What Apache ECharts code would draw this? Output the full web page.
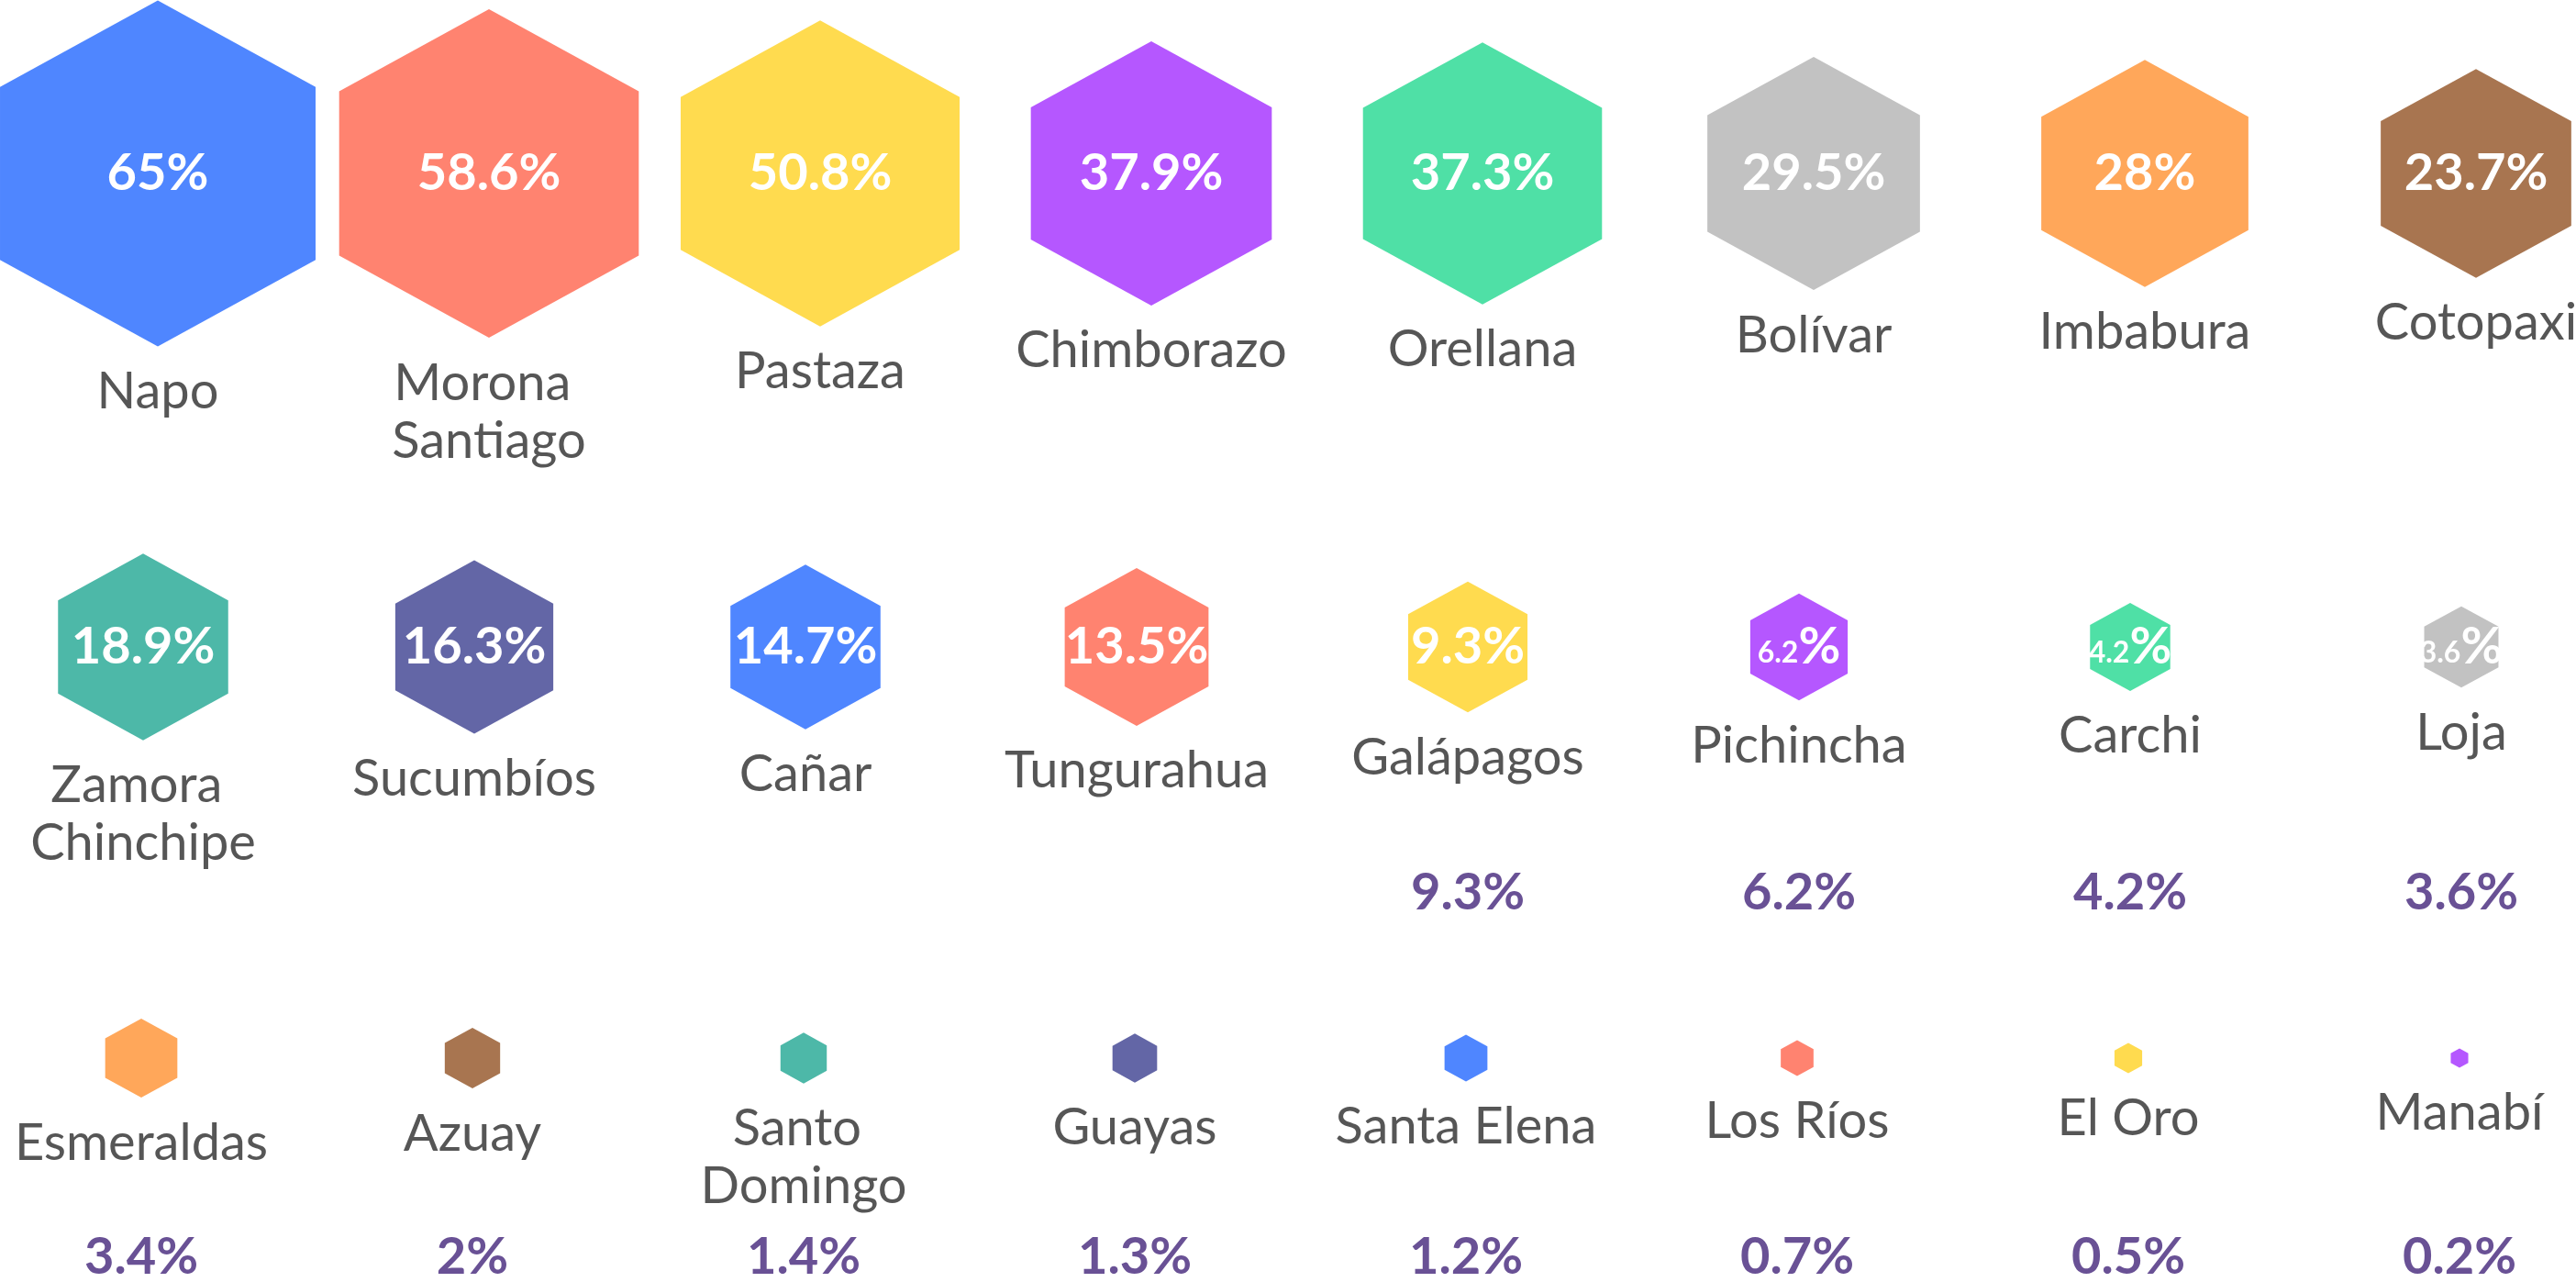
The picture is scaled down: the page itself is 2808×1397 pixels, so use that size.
<!DOCTYPE html>
<html>
<head>
<meta charset="utf-8">
<title>Provincias</title>
<script src="https://cdn.jsdelivr.net/npm/echarts@6.0.0/dist/echarts.min.js"></script>
<style>
  html, body { margin: 0; padding: 0; background: #fff; }
  #chart { width: 2808px; height: 1397px; }
</style>
</head>
<body>
<div id="chart"></div>
<script>
const provinces = [
  'Napo', 'Morona Santiago', 'Pastaza', 'Chimborazo', 'Orellana', 'Bolívar', 'Imbabura', 'Cotopaxi',
  'Zamora Chinchipe', 'Sucumbíos', 'Cañar', 'Tungurahua', 'Galápagos', 'Pichincha', 'Carchi', 'Loja',
  'Esmeraldas', 'Azuay', 'Santo Domingo', 'Guayas', 'Santa Elena', 'Los Ríos', 'El Oro', 'Manabí',
];
const shares = [
  65, 58.6, 50.8, 37.9, 37.3, 29.5, 28, 23.7,
  18.9, 16.3, 14.7, 13.5, 9.3, 6.2, 4.2, 3.6,
  3.4, 2, 1.4, 1.3, 1.2, 0.7, 0.5, 0.2,
];
const palette = ['#4f86ff', '#ff8370', '#ffdb4f', '#b557ff', '#4fe0a6', '#c2c2c2', '#ffa75a', '#a87550', '#4db8a8', '#6366a6'];

const perRow = 8;
const rows = [
  { top: 189, height: 100, firstX: 172 },
  { top: 705, height: 268, firstX: 156 },
  { top: 1153, height: 217, firstX: 154 },
];
const columnStep = 361;
const chartWidth = 2808;
const font = 'Lato';
const hexPath = 'path://M50 0L100 25L100 75L50 100L0 75L0 25Z';

function hexSize(value) {
  const h = 46.76 * Math.sqrt(value[2]);
  return [h / 1.096, h];
}

function innerLabel(params) {
  const v = params.value[2];
  if (v < 3.5) {
    return '';
  }
  if (v < 9) {
    return `{small|${v}}{big|%}`;
  }
  return `{big|${v}%}`;
}

const grid = [];
const xAxis = [];
const yAxis = [];
const series = [];

rows.forEach((row, r) => {
  const start = r * perRow;
  const values = shares.slice(start, start + perRow);
  const points = values.map((v, i) => [i, 0, v]);
  const smallPoints = values
    .map((v, i) => [i, 1, v])
    .filter((p) => p[2] < 10);

  grid.push({ left: 0, right: 0, top: row.top, height: row.height });
  xAxis.push({
    gridIndex: r,
    type: 'value',
    show: false,
    min: -row.firstX / columnStep,
    max: (chartWidth - row.firstX) / columnStep,
  });
  yAxis.push({ gridIndex: r, type: 'value', show: false, min: 0, max: 1, inverse: true });

  series.push({
    type: 'scatter',
    xAxisIndex: r,
    yAxisIndex: r,
    silent: true,
    clip: false,
    symbol: hexPath,
    symbolSize: hexSize,
    data: points,
    itemStyle: {
      opacity: 1,
      color: (p) => palette[(start + p.dataIndex) % palette.length],
    },
    label: {
      show: true,
      position: 'inside',
      formatter: innerLabel,
      rich: {
        big: { fontFamily: font, fontSize: 56, fontWeight: 'bold', color: '#fff' },
        small: { fontFamily: font, fontSize: 32, fontWeight: 'bold', color: '#fff', padding: [14, 0, 0, 0] },
      },
    },
  });

  series.push({
    type: 'scatter',
    xAxisIndex: r,
    yAxisIndex: r,
    silent: true,
    clip: false,
    symbol: hexPath,
    symbolSize: hexSize,
    data: points,
    itemStyle: { color: 'transparent' },
    label: {
      show: true,
      position: 'bottom',
      distance: 18,
      formatter: (p) => provinces[start + p.dataIndex],
      fontFamily: font,
      fontSize: 56,
      lineHeight: 63,
      color: '#2c2c2c',
      width: 330,
      overflow: 'break',
      align: 'center',
    },
  });

  series.push({
    type: 'scatter',
    xAxisIndex: r,
    yAxisIndex: r,
    silent: true,
    clip: false,
    symbolSize: 0,
    data: smallPoints,
    itemStyle: { color: 'transparent' },
    label: {
      show: true,
      position: 'inside',
      formatter: (p) => `${p.value[2]}%`,
      fontFamily: font,
      fontSize: 56,
      fontWeight: 'bold',
      color: '#43267a',
    },
  });
});

const chart = echarts.init(document.getElementById('chart'));
chart.setOption({
  animation: false,
  backgroundColor: '#fff',
  grid,
  xAxis,
  yAxis,
  series,
});
</script>
</body>
</html>
